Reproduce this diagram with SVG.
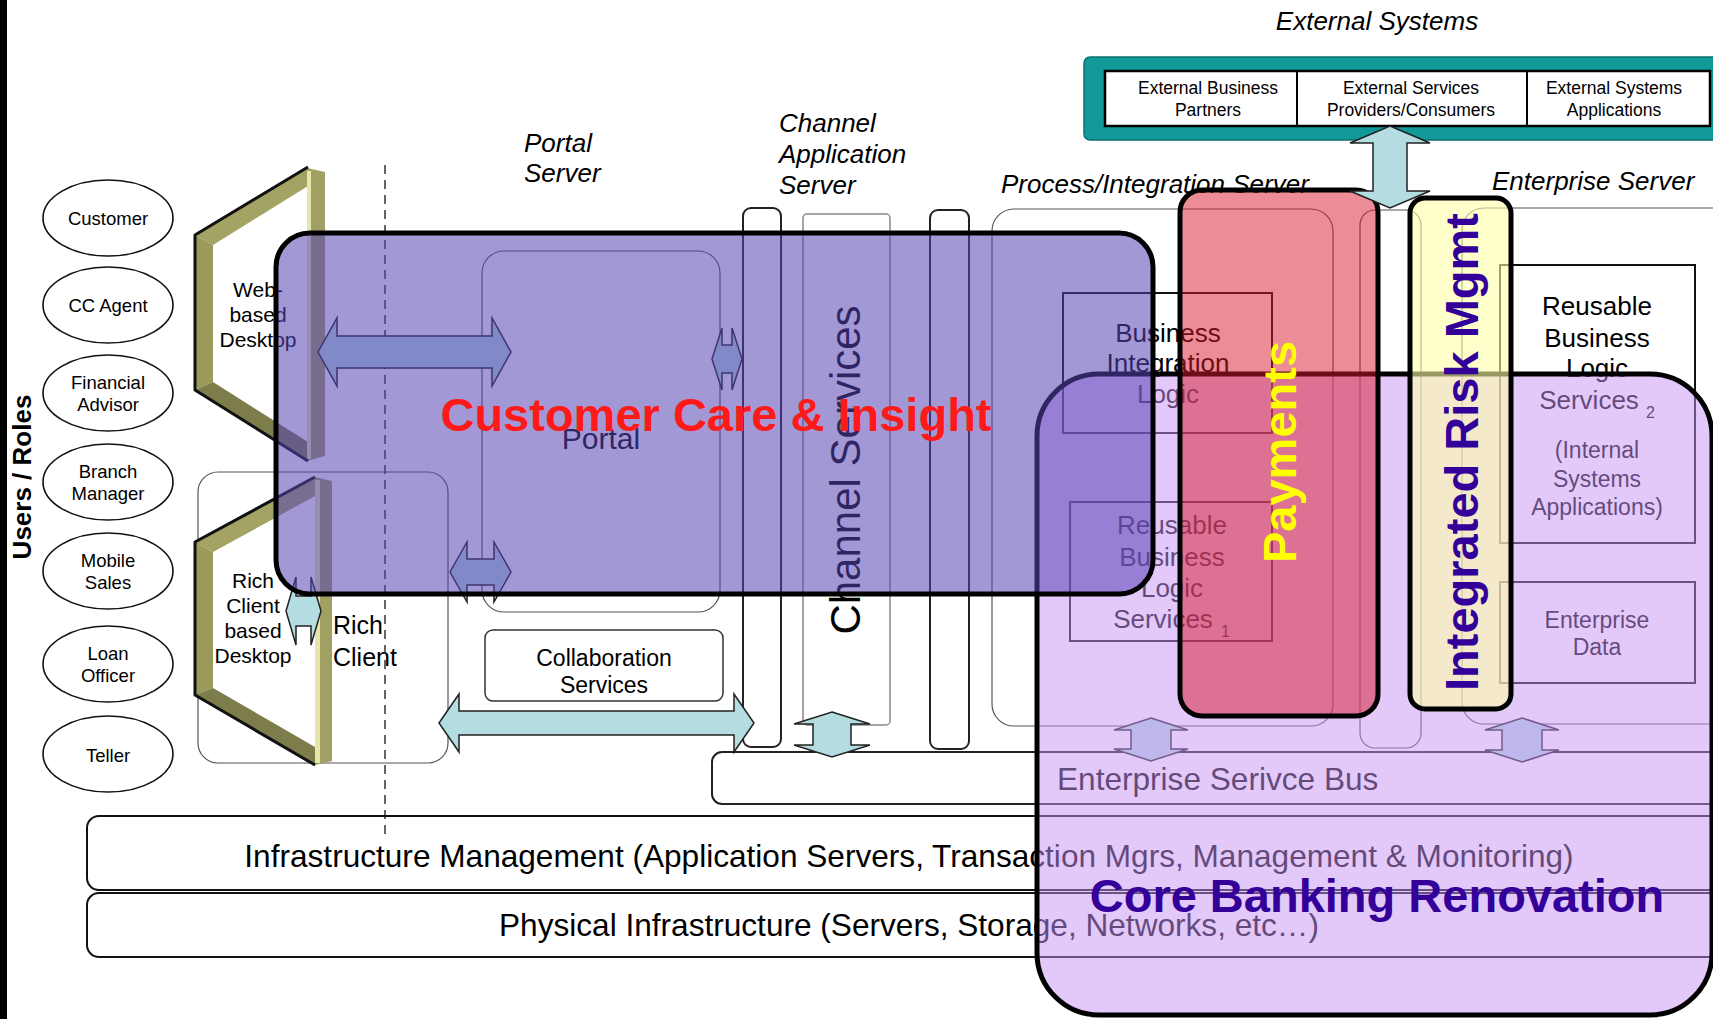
<svg xmlns="http://www.w3.org/2000/svg" width="1713" height="1019" viewBox="0 0 1713 1019">
<defs>
<style>
text { font-family: "Liberation Sans", Arial, sans-serif; fill: #000; }
.role ellipse { fill: #fff; stroke: #111; stroke-width: 1.6; }
.role text { font-size: 18.5px; text-anchor: middle; }
.srv { font-size: 26px; font-style: italic; }
.box { fill: none; stroke: #111; stroke-width: 2; }
.thin { fill: none; stroke: #555; stroke-width: 1.2; }
.mid { text-anchor: middle; }
.arrow { fill: #b4dde2; stroke: #222; stroke-width: 1.5; }
.b1 { fill: #a3a364; }
.b2 { fill: #9a9a5b; }
.b3 { fill: #7d7d4b; }
.bar { fill: #a0a062; }
.hl { fill: #e6e6ac; }
.edge { fill: none; stroke: #111; stroke-width: 3; stroke-linejoin: round; }
.ov { stroke: #000; stroke-width: 5; }
.big { font-weight: bold; font-size: 47px; text-anchor: middle; }
.t-red { fill: #ff1a1a; }
.t-yellow { fill: #ffff00; }
.t-indigo { fill: #330099; }
.layer { font-size: 31.6px; }
</style>
</defs>

<rect x="0" y="0" width="1713" height="1019" fill="#fff"/>
<rect x="0" y="0" width="7" height="1019" fill="#000"/>

<!-- users / roles -->
<g id="users-roles">
  <text transform="translate(31,477) rotate(-90)" text-anchor="middle" font-weight="bold" font-size="26">Users / Roles</text>
  <g class="role" id="role-customer"><ellipse cx="108" cy="218" rx="65" ry="38"/><text x="108" y="225">Customer</text></g>
  <g class="role" id="role-cc-agent"><ellipse cx="108" cy="305" rx="65" ry="38"/><text x="108" y="312">CC Agent</text></g>
  <g class="role" id="role-financial-advisor"><ellipse cx="108" cy="393" rx="65" ry="38"/><text x="108" y="389">Financial</text><text x="108" y="411">Advisor</text></g>
  <g class="role" id="role-branch-manager"><ellipse cx="108" cy="482" rx="65" ry="38"/><text x="108" y="478">Branch</text><text x="108" y="500">Manager</text></g>
  <g class="role" id="role-mobile-sales"><ellipse cx="108" cy="571" rx="65" ry="38"/><text x="108" y="567">Mobile</text><text x="108" y="589">Sales</text></g>
  <g class="role" id="role-loan-officer"><ellipse cx="108" cy="664" rx="65" ry="38"/><text x="108" y="660">Loan</text><text x="108" y="682">Officer</text></g>
  <g class="role" id="role-teller"><ellipse cx="108" cy="754" rx="65" ry="38"/><text x="108" y="762">Teller</text></g>
</g>

<!-- rich client container -->
<g id="rich-client">
  <rect class="thin" x="198" y="472" width="250" height="291" rx="20"/>
  <text x="333" y="634" font-size="25">Rich</text>
  <text x="333" y="666" font-size="25">Client</text>
</g>

<!-- web based desktop frame -->
<g id="web-desktop">
  <polygon class="b1" points="195,235 308,167 308,186 213,245"/>
  <polygon class="b2" points="195,235 213,245 213,382 195,390"/>
  <polygon class="b3" points="195,390 213,382 308,442 308,461"/>
  <polygon class="bar" points="307,168 325,172 325,456 307,461"/>
  <rect class="hl" x="307" y="171" width="4" height="288"/>
  <polyline class="edge" points="308,167 195,235 195,390 308,461"/>
  <text class="mid" x="258" y="297" font-size="21">Web-</text>
  <text class="mid" x="258" y="322" font-size="21">based</text>
  <text class="mid" x="258" y="347" font-size="21">Desktop</text>
</g>

<!-- rich client based desktop frame -->
<g id="rich-desktop">
  <polygon class="b1" points="195,542 315,477 315,496 213,552"/>
  <polygon class="b2" points="195,542 213,552 213,688 195,695"/>
  <polygon class="b3" points="195,695 213,688 315,747 315,765"/>
  <polygon class="bar" points="315,477 332,481 332,761 315,765"/>
  <rect class="hl" x="315" y="480" width="5" height="283"/>
  <polyline class="edge" points="315,477 195,542 195,695 315,765"/>
  <text class="mid" x="253" y="588" font-size="21">Rich</text>
  <text class="mid" x="253" y="613" font-size="21">Client</text>
  <text class="mid" x="253" y="638" font-size="21">based</text>
  <text class="mid" x="253" y="663" font-size="21">Desktop</text>
</g>

<!-- tier divider -->
<line x1="385" y1="165" x2="385" y2="837" stroke="#333" stroke-width="1.5" stroke-dasharray="9,6"/>

<!-- server labels -->
<g id="server-labels">
  <text class="srv" x="524" y="152">Portal</text>
  <text class="srv" x="524" y="182">Server</text>
  <text class="srv" x="779" y="132">Channel</text>
  <text class="srv" x="779" y="163">Application</text>
  <text class="srv" x="779" y="194">Server</text>
  <text class="srv" x="1001" y="193">Process/Integration Server</text>
  <text class="srv" x="1492" y="190">Enterprise Server</text>
  <text class="srv" x="1377" y="30" text-anchor="middle" font-size="25">External Systems</text>
</g>

<!-- external systems -->
<g id="external-systems">
  <rect x="1084" y="57" width="660" height="83" rx="6" fill="#12999a" stroke="#0b6f70" stroke-width="1.5"/>
  <rect x="1105" y="71" width="605" height="55" fill="#fff" stroke="#000" stroke-width="2.5"/>
  <line x1="1297" y1="71" x2="1297" y2="126" stroke="#000" stroke-width="2"/>
  <line x1="1527" y1="71" x2="1527" y2="126" stroke="#000" stroke-width="2"/>
  <g font-size="17.5" text-anchor="middle">
    <text x="1208" y="94">External Business</text>
    <text x="1208" y="116">Partners</text>
    <text x="1411" y="94">External Services</text>
    <text x="1411" y="116">Providers/Consumers</text>
    <text x="1614" y="94">External Systems</text>
    <text x="1614" y="116">Applications</text>
  </g>
</g>

<!-- portal -->
<g id="portal">
  <rect class="thin" x="482" y="251" width="238" height="361" rx="22"/>
  <text class="mid" x="601" y="449" font-size="30">Portal</text>
</g>
<g id="collaboration-services">
  <rect x="485" y="630" width="238" height="71" rx="8" fill="#fff" stroke="#333" stroke-width="1.5"/>
  <text class="mid" x="604" y="666" font-size="23">Collaboration</text>
  <text class="mid" x="604" y="693" font-size="23">Services</text>
</g>

<!-- channel application server -->
<g id="channel-server">
  <rect x="743" y="208" width="38" height="539" rx="8" fill="none" stroke="#222" stroke-width="2"/>
  <rect x="803" y="214" width="87" height="511" rx="4" fill="none" stroke="#888" stroke-width="1.5"/>
  <rect x="930" y="210" width="39" height="539" rx="8" fill="none" stroke="#222" stroke-width="2"/>
  <text transform="translate(860,470) rotate(-90)" text-anchor="middle" font-size="42">Channel Services</text>
</g>

<!-- process / integration server -->
<g id="process-server">
  <rect class="thin" x="992" y="209" width="341" height="517" rx="22"/>
  <rect class="thin" x="1360" y="210" width="61" height="538" rx="15"/>
  <rect class="box" x="1063" y="293" width="209" height="140"/>
  <text class="mid" x="1168" y="342" font-size="26">Business</text>
  <text class="mid" x="1168" y="372" font-size="26">Integration</text>
  <text class="mid" x="1168" y="403" font-size="26">Logic</text>
  <rect class="box" x="1070" y="502" width="202" height="139"/>
  <text class="mid" x="1172" y="534" font-size="26">Reusable</text>
  <text class="mid" x="1172" y="566" font-size="26">Business</text>
  <text class="mid" x="1172" y="597" font-size="26">Logic</text>
  <text class="mid" x="1163" y="628" font-size="26">Services</text>
  <text x="1221" y="637" font-size="16">1</text>
</g>

<!-- enterprise server -->
<g id="enterprise-server">
  <rect class="thin" x="1462" y="208" width="290" height="516" rx="22"/>
  <rect x="1500" y="265" width="195" height="278" fill="#fff" stroke="#111" stroke-width="2"/>
  <text class="mid" x="1597" y="315" font-size="26">Reusable</text>
  <text class="mid" x="1597" y="347" font-size="26">Business</text>
  <text class="mid" x="1597" y="377" font-size="26">Logic</text>
  <text class="mid" x="1589" y="409" font-size="26">Services</text>
  <text x="1646" y="418" font-size="16">2</text>
  <text class="mid" x="1597" y="458" font-size="23">(Internal</text>
  <text class="mid" x="1597" y="487" font-size="23">Systems</text>
  <text class="mid" x="1597" y="515" font-size="23">Applications)</text>
  <rect class="box" x="1500" y="582" width="195" height="101"/>
  <text class="mid" x="1597" y="628" font-size="23">Enterprise</text>
  <text class="mid" x="1597" y="655" font-size="23">Data</text>
</g>

<!-- service bus and infrastructure layers -->
<g id="service-bus">
  <rect x="712" y="752" width="1030" height="52" rx="10" fill="none" stroke="#222" stroke-width="2"/>
  <text class="layer" x="1057" y="790">Enterprise Serivce Bus</text>
</g>
<g id="infrastructure-management">
  <rect x="87" y="816" width="1660" height="74" rx="12" fill="none" stroke="#111" stroke-width="2"/>
  <text class="mid layer" x="909" y="867">Infrastructure Management (Application Servers, Transaction Mgrs, Management &amp; Monitoring)</text>
</g>
<g id="physical-infrastructure">
  <rect x="87" y="893" width="1660" height="64" rx="12" fill="none" stroke="#111" stroke-width="2"/>
  <text class="mid layer" x="909" y="936">Physical Infrastructure (Servers, Storage, Networks, etc…)</text>
</g>

<!-- connectors -->
<g id="connectors">
  <path class="arrow" d="M318,352 L337,318 L337,336 L492,336 L492,318 L511,352 L492,386 L492,368 L337,368 L337,386 Z"/>
  <path class="arrow" d="M712,359 L722,328 L722,345 L732,345 L732,328 L742,359 L732,390 L732,373 L722,373 L722,390 Z"/>
  <path class="arrow" d="M450,572 L467,542 L467,559 L494,559 L494,542 L511,572 L494,602 L494,585 L467,585 L467,602 Z"/>
  <path class="arrow" d="M286,611 L296,577 L296,596 L311,596 L311,577 L321,611 L311,645 L311,626 L296,626 L296,645 Z"/>
  <path class="arrow" d="M439,723 L459,694 L459,711 L734,711 L734,694 L754,723 L734,752 L734,735 L459,735 L459,752 Z"/>
  <path class="arrow" d="M832,712 L870,724 L851,724 L851,745 L870,745 L832,757 L794,745 L813,745 L813,724 L794,724 Z"/>
  <path class="arrow" d="M1151,718 L1188,730 L1171,730 L1171,749 L1188,749 L1151,761 L1114,749 L1131,749 L1131,730 L1114,730 Z"/>
  <path class="arrow" d="M1522,718 L1559,730 L1542,730 L1542,750 L1559,750 L1522,762 L1485,750 L1502,750 L1502,730 L1485,730 Z"/>
</g>

<!-- programme overlays -->
<g id="core-banking-renovation">
  <rect class="ov" x="1037" y="374" width="675" height="641" rx="62" fill="rgba(200,145,245,0.5)" stroke-width="4.5"/>
</g>
<g id="customer-care-insight">
  <rect class="ov" x="276" y="233" width="877" height="361" rx="34" fill="rgba(88,68,180,0.55)"/>
</g>
<g id="payments">
  <rect class="ov" x="1180" y="190" width="198" height="526" rx="22" fill="rgba(215,25,45,0.5)"/>
</g>
<g id="integrated-risk-mgmt">
  <rect class="ov" x="1410" y="198" width="101" height="511" rx="15" fill="rgba(255,255,170,0.6)"/>
</g>

<!-- programme titles -->
<text class="big t-red" x="716" y="431">Customer Care &amp; Insight</text>
<text class="big t-yellow" transform="translate(1296,452) rotate(-90)">Payments</text>
<text class="big t-indigo" transform="translate(1478,452) rotate(-90)">Integrated Risk Mgmt</text>
<text class="big t-indigo" x="1377" y="912">Core Banking Renovation</text>

<!-- external systems link -->
<path class="arrow" d="M1390,126 L1430,143 L1407,143 L1407,191 L1430,191 L1390,208 L1350,191 L1373,191 L1373,143 L1350,143 Z"/>
</svg>
